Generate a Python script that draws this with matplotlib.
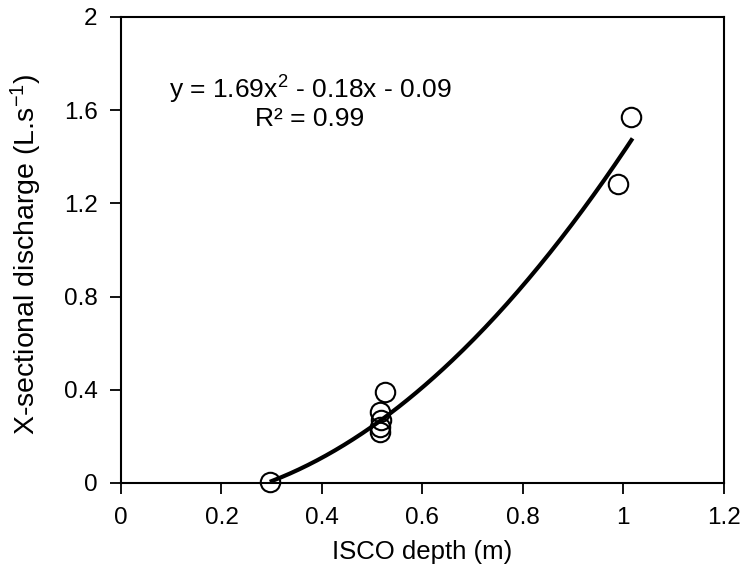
"""
ISCO depth vs cross-sectional discharge, with a 2nd order polynomial trendline.
"""

import numpy as np
import matplotlib
matplotlib.use('Agg')
import matplotlib.pyplot as plt

plt.rcParams['font.family'] = ['Liberation Sans', 'DejaVu Sans']
plt.rcParams['mathtext.default'] = 'regular'

# Observed points.
depth = [0.297, 0.515, 0.515, 0.518, 0.515, 0.525, 0.989, 1.016]
discharge = [0.005, 0.24, 0.22, 0.27, 0.306, 0.392, 1.282, 1.571]

# Trendline coefficients (as printed on the chart) and its x range.
coef = [1.69, -0.18, -0.09]
fit_start, fit_end = 0.30, 1.016

xticks = [0, 0.2, 0.4, 0.6, 0.8, 1, 1.2]
yticks = [0, 0.4, 0.8, 1.2, 1.6, 2]

fig = plt.figure(figsize=(7.47, 5.76), dpi=100)
ax = fig.add_axes([0.162, 0.1615, 0.807, 0.809])

# Trendline.
xs = np.linspace(fit_start, fit_end, 200)
ax.plot(xs, np.polyval(coef, xs), color='black', lw=3, zorder=2)

# Data points as open circles.
ax.plot(depth, discharge, 'o', ms=14, mfc='none', mec='black', mew=1.5,
        zorder=3, clip_on=False)

ax.set_xlim(0, 1.2)
ax.set_ylim(0, 2)
ax.set_xticks(xticks)
ax.set_xticklabels(['0', '0.2', '0.4', '0.6', '0.8', '1', '1.2'])
ax.set_yticks(yticks)
ax.set_yticklabels(['0', '0.4', '0.8', '1.2', '1.6', '2'])
ax.tick_params(direction='out', length=8, width=1.3, labelsize=17.5, pad=9,
               colors='black')
for s in ax.spines.values():
    s.set_linewidth(1.5)

ax.set_xlabel('ISCO depth (m)', fontsize=18.5, labelpad=8)
ax.set_ylabel('X-sectional discharge (L.s$^{-1}$)', fontsize=20.5)
ax.yaxis.set_label_coords(-0.128, 0.49)

ax.text(0.376, 1.687, 'y = 1.69x$^{2}$ - 0.18x - 0.09', fontsize=19,
        ha='center', va='center')
ax.text(0.376, 1.564, 'R\u00b2 = 0.99', fontsize=19, ha='center', va='center')

fig.savefig('out.png', dpi=100)
